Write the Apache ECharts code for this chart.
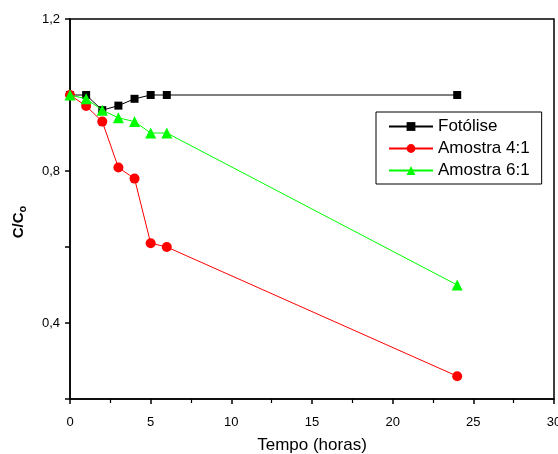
<!DOCTYPE html>
<html><head><meta charset="utf-8">
<script src="https://cdn.jsdelivr.net/npm/echarts@6/dist/echarts.min.js"></script>
<style>html,body{margin:0;padding:0;background:#fff;overflow:hidden}#c{width:558px;height:454px}</style>
</head><body><div id="c"></div>
<script>
var hours = [0, 1, 2, 3, 4, 5, 6, 24];
var fotolise = [1.0, 1.0, 0.96, 0.972, 0.99, 1.0, 1.0, 1.0];
var amostra41 = [1.0, 0.971, 0.93, 0.809, 0.78, 0.61, 0.60, 0.26];
var amostra61 = [1.0, 0.99, 0.96, 0.94, 0.93, 0.90, 0.90, 0.50];
var seriesNames = ['Fotólise', 'Amostra 4:1', 'Amostra 6:1'];
var xTitle = 'Tempo (horas)';

function pairs(ys){ return hours.map(function(h,i){ return [h, ys[i]]; }); }
var font = 'Liberation Sans, Arial, sans-serif';
var chart = echarts.init(document.getElementById('c'), null, {renderer:'canvas', width:558, height:454});
chart.setOption({
  animation:false,
  backgroundColor:'#fff',
  grid:{left:70, top:19, right:4, bottom:55, show:true, borderColor:'#000', borderWidth:1.5,
        containLabel:false, outerBoundsMode:'none'},
  legend:{
    orient:'vertical', left:376, top:112, width:165,
    padding:[6,12,5,12], itemGap:5, itemWidth:44, itemHeight:11,
    borderColor:'#000', borderWidth:1, backgroundColor:'#fff',
    textStyle:{fontFamily:font, fontSize:17, color:'#000', padding:[0,0,0,0], width:100},
    data:seriesNames
  },
  xAxis:{
    type:'value', min:0, max:30, interval:5,
    axisLine:{onZero:false, lineStyle:{color:'#000', width:1.5}},
    axisTick:{inside:false, length:5, lineStyle:{color:'#000', width:1.5}},
    minorTick:{show:true, splitNumber:2, length:4, lineStyle:{color:'#000', width:1.2}},
    splitLine:{show:false},
    axisLabel:{fontFamily:font, fontSize:13, color:'#000', margin:17},
    name:xTitle, nameLocation:'middle', nameGap:38,
    nameTextStyle:{fontFamily:font, fontSize:17, color:'#000'}
  },
  yAxis:{
    type:'value', min:0.2, max:1.2, interval:0.2,
    axisLine:{onZero:false, lineStyle:{color:'#000', width:1.5}},
    axisTick:{inside:false, length:5, lineStyle:{color:'#000', width:1.5}},
    splitLine:{show:false},
    axisLabel:{fontFamily:font, fontSize:13, color:'#000', margin:10,
      formatter:function(v){ var k=Math.round(v*10); return (k%4===0)? (v.toFixed(1).replace('.',',')) : ''; }},
    name:'{a|C/C}{b|o}', nameLocation:'middle', nameGap:42, nameRotate:90,
    nameTextStyle:{padding:[0,26,0,0], rich:{
      a:{fontFamily:font, fontSize:15, fontWeight:'bold', color:'#000'},
      b:{fontFamily:font, fontSize:11, fontWeight:'bold', color:'#000', padding:[7,0,0,0]}
    }}
  },
  series:[
    {name:seriesNames[0], type:'line', data:pairs(fotolise), symbol:'rect', symbolSize:8,
     lineStyle:{color:'#000', width:1}, itemStyle:{color:'#000'}, z:3},
    {name:seriesNames[1], type:'line', data:pairs(amostra41), symbol:'circle', symbolSize:10,
     lineStyle:{color:'#ff0000', width:1}, itemStyle:{color:'#ff0000'}, z:4},
    {name:seriesNames[2], type:'line', data:pairs(amostra61), symbol:'triangle', symbolSize:11,
     lineStyle:{color:'#00ff00', width:1}, itemStyle:{color:'#00ff00'}, z:5}
  ]
});
</script></body></html>
